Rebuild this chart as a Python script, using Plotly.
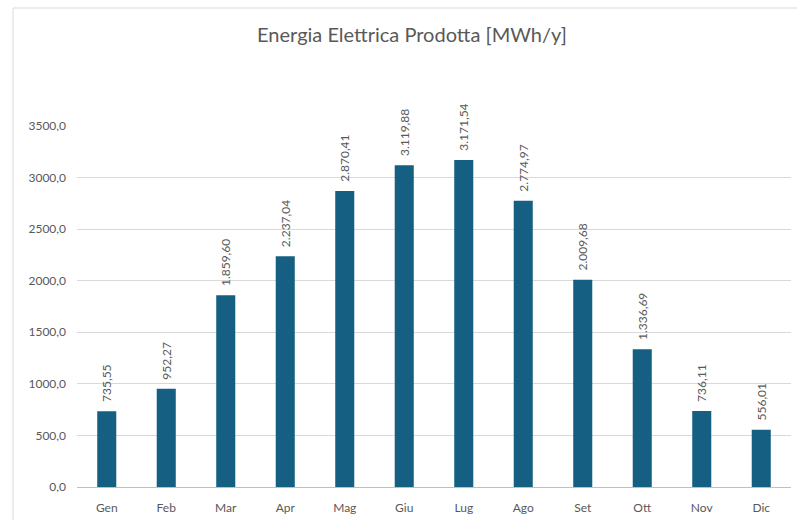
import plotly.graph_objects as go

months = ["Gen", "Feb", "Mar", "Apr", "Mag", "Giu", "Lug", "Ago", "Set", "Ott", "Nov", "Dic"]
energy = [735.55, 952.27, 1859.60, 2237.04, 2870.41, 3119.88, 3171.54, 2774.97, 2009.68, 1336.69, 736.11, 556.01]
y_ticks = [0, 500, 1000, 1500, 2000, 2500, 3000, 3500]
title = "Energia Elettrica Prodotta [MWh/y]"

W, H = 797, 520
L, R, T, B = 77, 6, 126, 33

FONT = "Lato, 'Noto Sans', sans-serif"
GREY = "#595959"

fig = go.Figure(go.Bar(
    x=months, y=energy,
    marker_color="#156082",
    marker_line_width=0,
    texttemplate="\u00a0\u00a0%{y:,.2f}",
    textposition="outside",
    textangle=-90,
    constraintext="none",
    textfont=dict(family=FONT, size=12, color=GREY),
    cliponaxis=False,
    hoverinfo="skip",
))

pw = W - L - R
ph = H - T - B
fig.add_shape(type="rect", xref="paper", yref="paper",
              x0=(13 - L) / pw, x1=(W + 5 - L) / pw,
              y0=(H - B - (H + 5)) / ph, y1=(H - B - 8) / ph,
              line=dict(color="#d9d9d9", width=1), fillcolor="rgba(0,0,0,0)", layer="below")

fig.update_layout(
    width=W, height=H,
    margin=dict(l=L, r=R, t=T, b=B, autoexpand=False),
    paper_bgcolor="white", plot_bgcolor="white",
    separators=",.",
    bargap=0.68,
    showlegend=False,
    title=dict(text=title, x=412 / W, xanchor="center", y=1 - 35 / H, yanchor="middle",
               font=dict(family=FONT, size=20, color=GREY)),
    xaxis=dict(showgrid=False, showline=False, ticks="", ticklabelstandoff=12,
               tickfont=dict(family=FONT, size=12, color=GREY)),
    yaxis=dict(range=[0, 3500], tickvals=y_ticks, tickformat=".1f",
               showgrid=True, gridcolor="#d9d9d9", gridwidth=1,
               zeroline=True, zerolinecolor="#bfbfbf", zerolinewidth=1,
               showline=False, ticks="", ticklabelstandoff=10,
               tickfont=dict(family=FONT, size=12, color=GREY)),
)

fig.write_html("out.html", config={"displayModeBar": False},
               post_script="document.body.style.margin='0';document.body.style.overflow='hidden';")
